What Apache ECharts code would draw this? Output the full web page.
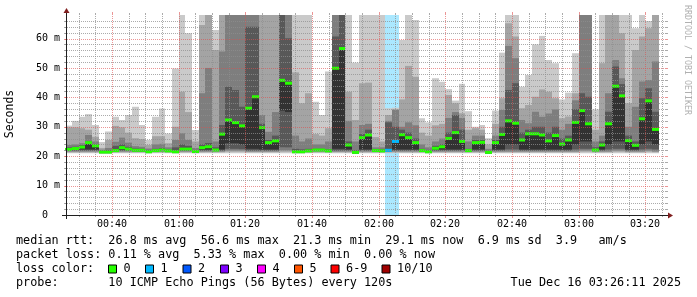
<!DOCTYPE html>
<html><head><meta charset="utf-8">
<script src="https://cdn.jsdelivr.net/npm/echarts@6/dist/echarts.min.js"></script>
<style>html,body{margin:0;padding:0;background:#fff}#c{width:697px;height:297px}</style>
</head><body><div id="c"></div>
<script>
// ---- time frame (minutes after midnight) ----
const firstStepMinute = 26;          // first 120 s step starts 00:26
const stepMinutes = 2;
const axisStartMinute = 26 + 11/60;  // 00:26:11
const axisEndMinute = 206 + 11/60;   // 03:26:11

// ---- median rtt per step (ms) ----
const median = [22.3,22.6,23.1,24.6,23.5,21.4,21.4,21.9,22.9,22.4,
 22.0,22.0,21.5,21.9,22.1,21.8,21.5,22.4,22.4,21.6,
 22.9,23.2,22.1,27.5,32.3,31.4,30.3,36.3,40.2,29.7,
 24.6,25.2,45.8,44.8,21.5,21.5,21.8,22.1,22.1,21.8,
 49.9,56.6,23.8,21.3,26.3,27.2,21.9,21.8,22.0,25.0,
 27.3,26.3,24.6,21.9,21.5,22.7,23.2,26.0,28.0,25.0,
 21.9,24.6,24.7,21.3,24.6,27.4,32.0,31.2,25.5,27.6,
 27.6,27.2,25.2,27.0,24.1,25.5,31.5,35.5,31.0,22.1,
 23.8,31.0,43.8,40.5,25.3,23.7,32.7,38.8,29.1];

// ---- sorted pings (ms); 75 = beyond the top of the graph ----
const ping1 = [21.0,21.0,21.0,21.0,21.0,20.9,20.9,21.0,21.0,21.0,
 21.0,21.0,20.9,21.0,21.0,21.0,20.9,21.0,21.0,20.9,
 21.0,21.0,21.0,21.0,21.0,21.0,21.0,21.0,21.0,21.0,
 21.0,21.0,21.0,21.0,20.9,20.9,21.0,21.0,21.0,21.0,
 21.0,21.0,21.0,20.8,21.0,21.0,21.0,21.0,21.0,21.0,
 21.0,21.0,21.0,21.0,20.9,21.0,21.0,21.0,21.0,21.0,
 21.0,21.0,21.0,20.8,21.0,21.0,21.0,21.0,21.0,21.0,
 21.0,21.0,21.0,21.0,21.0,21.0,21.0,21.0,21.0,21.0,
 21.0,21.0,21.0,21.0,21.0,21.0,21.0,21.0,21.0];
const ping2 = [21.3,21.3,21.3,21.3,21.3,21.0,21.0,21.3,21.3,21.3,
 21.3,21.3,21.1,21.3,21.3,21.3,21.1,21.3,21.3,21.1,
 21.3,21.3,21.3,21.3,21.5,21.5,21.5,21.3,21.3,21.3,
 21.3,21.3,21.5,21.5,21.1,21.1,21.3,21.3,21.3,21.3,
 21.3,21.3,21.3,20.9,21.3,21.3,21.3,21.3,21.3,21.3,
 21.3,21.3,21.3,21.3,21.1,21.3,21.3,21.3,21.3,21.3,
 21.3,21.3,21.3,20.9,21.3,21.3,21.3,21.3,21.3,21.3,
 21.3,21.3,21.3,21.3,21.3,21.3,21.3,21.5,21.5,21.3,
 21.3,21.3,21.5,21.5,21.3,21.3,21.3,21.5,21.3];
const ping3 = [21.6,21.6,21.6,21.6,21.6,21.0,21.0,21.5,21.6,21.6,
 21.6,21.6,21.1,21.5,21.6,21.4,21.1,21.6,21.6,21.2,
 21.6,21.6,21.6,21.6,21.9,21.9,21.9,21.6,21.6,21.6,
 21.6,21.6,22.0,22.0,21.1,21.1,21.4,21.6,21.6,21.4,
 21.6,21.6,21.6,20.9,21.6,21.6,21.5,21.4,21.6,21.6,
 21.6,21.6,21.6,21.5,21.1,21.6,21.6,21.6,21.6,21.6,
 21.5,21.6,21.6,20.9,21.6,21.6,21.6,21.6,21.6,21.6,
 21.6,21.6,21.6,21.6,21.6,21.6,21.6,21.9,21.9,21.6,
 21.6,21.6,21.9,21.9,21.6,21.6,21.6,21.9,21.6];
const ping4 = [21.9,21.9,21.9,21.9,21.9,21.1,21.1,21.6,21.9,21.9,
 21.7,21.7,21.2,21.6,21.8,21.5,21.2,21.9,21.9,21.3,
 21.9,21.9,21.8,21.9,22.5,22.5,22.4,21.9,21.9,21.9,
 21.9,21.9,23.0,23.0,21.2,21.2,21.5,21.8,21.8,21.5,
 21.9,21.9,21.9,21.0,21.9,21.9,21.6,21.5,21.7,21.9,
 21.9,21.9,21.9,21.6,21.2,21.9,21.9,21.9,21.9,21.9,
 21.6,21.9,21.9,21.0,21.9,21.9,22.3,22.3,21.9,21.9,
 21.9,21.9,21.9,21.9,21.9,21.9,22.3,22.5,22.5,21.8,
 21.9,22.3,22.5,22.5,21.9,21.9,22.3,22.5,22.3];
const ping5 = [22.0,22.2,22.3,22.3,22.3,21.1,21.1,21.6,22.3,22.1,
 21.7,21.7,21.2,21.6,21.8,21.5,21.2,22.1,22.1,21.3,
 22.3,22.3,21.8,22.3,24.4,24.4,24.0,22.5,22.5,22.3,
 22.3,22.3,35.5,35.0,21.2,21.2,21.5,21.8,21.8,21.5,
 22.5,22.5,22.3,21.0,22.3,22.3,21.6,21.5,21.7,22.3,
 22.3,22.3,22.3,21.6,21.2,22.3,22.3,22.3,22.3,22.3,
 21.6,22.3,22.3,21.0,22.3,22.3,24.0,24.0,22.3,22.3,
 22.3,22.3,22.3,22.3,22.3,22.3,24.0,25.0,25.0,21.8,
 22.3,24.0,25.0,25.0,22.3,22.3,24.0,25.0,24.0];
// ping6 is the median
const ping7 = [23.0,23.2,23.8,25.0,24.0,21.8,22.0,23.5,24.0,23.2,
 22.6,22.5,22.0,22.5,22.8,22.2,23.0,24.0,23.5,22.0,
 24.0,24.5,23.0,30.6,43.6,42.5,36.8,64.0,64.0,31.0,
 25.5,27.0,75,60.1,22.5,22.3,22.5,22.5,22.5,22.3,
 60.7,75,25.0,22.0,27.5,29.0,22.3,22.2,31.5,30.0,
 29.0,28.0,26.0,22.5,22.0,23.5,24.0,28.0,34.0,29.0,
 22.5,25.5,25.5,21.8,25.5,30.0,42.5,44.8,28.0,29.0,
 30.0,30.0,28.0,30.0,26.0,27.0,36.0,41.4,40.2,23.0,
 25.0,35.1,50.5,44.5,27.0,25.0,39.7,43.1,35.1];
const ping8 = [23.8,24.0,24.4,27.2,25.0,22.2,22.8,24.9,26.3,24.6,
 23.4,23.2,22.6,24.0,24.2,23.0,25.5,27.8,25.5,22.8,
 41.4,50.0,25.0,55.6,75,75,75,75,75,34.0,
 28.3,35.0,75,75,27.0,25.0,26.0,24.0,24.0,25.0,
 75,75,32.0,25.0,30.6,31.0,23.0,23.0,32.0,35.7,
 30.0,31.5,30.5,24.0,23.0,25.0,26.0,33.0,35.0,33.0,
 25.0,27.0,27.0,22.5,27.0,35.7,57.5,53.3,32.3,31.2,
 35.1,33.4,34.5,35.9,29.0,31.0,39.0,75,75,25.0,
 27.0,41.4,52.7,46.5,30.0,36.8,45.4,45.9,52.2];
const ping9 = [29.8,29.8,29.5,29.0,26.6,22.8,25.5,30.3,29.8,28.0,
 26.1,25.8,23.8,26.8,26.8,24.4,30.0,41.9,35.0,25.0,
 64.6,75,56.1,75,75,75,75,75,75,75,
 75,75,75,75,48.5,38.0,41.4,27.5,27.0,29.5,
 75,75,41.9,32.3,44.8,45.0,26.5,25.0,34.0,36.0,
 39.3,50.7,47.0,28.0,27.0,30.5,31.0,40.8,38.0,34.6,
 29.0,29.5,29.0,24.0,31.0,39.7,65.2,60.7,36.3,37.4,
 40.2,42.7,41.9,39.7,32.9,33.5,41.4,75,75,29.0,
 51.6,75,75,61.8,38.0,56.1,60.7,63.5,75];
const ping10 = [30.4,32.0,33.4,34.3,30.6,24.8,28.4,33.4,32.3,34.0,
 36.8,30.6,25.5,33.4,36.2,27.7,49.8,75,61.8,28.9,
 75,75,62.9,75,75,75,75,75,75,75,
 75,75,75,75,75,75,75,38.5,34.0,48.8,
 75,75,75,51.8,75,75,75,75,36.3,36.5,
 59.5,75,66.3,32.9,31.5,46.5,45.3,42.8,38.9,44.6,
 35.3,30.0,30.6,26.1,35.5,55.2,75,75,43.6,47.6,
 58.0,60.9,52.7,51.6,39.3,41.6,55.0,75,75,35.9,
 75,75,75,75,75,63.5,75,66.0,75];

// ---- lost pings per step (out of 10) ----
const lossCount = [0,0,0,0,0,0,0,0,0,0, 0,0,0,0,0,0,0,0,0,0,
 0,0,0,0,0,0,0,0,0,0, 0,0,0,0,0,0,0,0,0,0,
 0,0,0,0,0,0,0,0,1,1, 0,0,0,0,0,0,0,0,0,0,
 0,0,0,0,0,0,0,0,0,0, 0,0,0,0,0,0,0,0,0,0,
 0,0,0,0,0,0,0,0,0];

// ---- legends / labels ----
const lossLegendLabels = ['0','1','2','3','4','5','6-9','10/10'];
const lossLegendColors = ['#26ff00','#00b8ff','#0059ff','#7e00ff','#ff00ff','#ff5500','#ff0000','#a00000'];
const xTickLabels = ['00:40','01:00','01:20','01:40','02:00','02:20','02:40','03:00','03:20'];
const statLines = [
  'median rtt:  26.8 ms avg  56.6 ms max  21.3 ms min  29.1 ms now  6.9 ms sd  3.9   am/s',
  'packet loss: 0.11 % avg  5.33 % max  0.00 % min  0.00 % now',
  'loss color:',
  'probe:       10 ICMP Echo Pings (56 Bytes) every 120s'
];
const dateText = 'Tue Dec 16 03:26:11 2025';

// ================= drawing =================
const MONO = 'DejaVu Sans Mono';
const G = {left: 66, top: 15, width: 600, height: 200};
const smokeColors = ['#cacaca','#a4a4a4','#7e7e7e','#585858','#323232'];
const lows = [ping1, ping2, ping3, ping4, ping5];
const highs = [ping10, ping9, ping8, ping7, median];

function lossIndex(n) { return n <= 5 ? n : (n < 10 ? 6 : 7); }
function toMin(lbl) { const p = lbl.split(':'); return +p[0] * 60 + +p[1]; }

function clipR(params, r) {
  const cs = params.coordSys;
  return echarts.graphic.clipRectByRect(r, {x: cs.x, y: cs.y, width: cs.width, height: cs.height});
}
function bandRender(params, api) {
  const a = api.coord([api.value(0), api.value(3)]);
  const b = api.coord([api.value(1), api.value(2)]);
  const x0 = Math.round(a[0]), x1 = Math.round(b[0]);
  const r = clipR(params, {x: x0, y: a[1], width: x1 - x0, height: b[1] - a[1]});
  return r && {type: 'rect', shape: r, style: {fill: api.visual('color')}};
}
function medianRender(params, api) {
  const a = api.coord([api.value(0), api.value(2)]);
  const b = api.coord([api.value(1), api.value(2)]);
  const x0 = Math.round(a[0]), x1 = Math.round(b[0]);
  const col = lossLegendColors[lossIndex(api.value(3))];
  return {type: 'rect', shape: {x: x0, y: a[1] - 1.5, width: x1 - x0, height: 3}, style: {fill: col}};
}
function lossRender(params, api) {
  if (!api.value(2)) return null;
  const a = api.coord([api.value(0), 0]);
  const b = api.coord([api.value(1), 0]);
  const x0 = Math.round(a[0]), x1 = Math.round(b[0]);
  const cs = params.coordSys;
  const c = echarts.color.modifyAlpha(lossLegendColors[lossIndex(api.value(2))], 0.33);
  return {type: 'rect', shape: {x: x0, y: cs.y, width: x1 - x0, height: cs.height}, style: {fill: c}};
}
const GRID_C = 'rgba(143,143,143,0.75)', MGRID_C = 'rgba(222,79,79,0.6)';
function gridRender(params, api) {
  const cs = params.coordSys;
  const kind = api.value(2);
  const p = api.coord([api.value(0), api.value(1)]);
  const major = kind === 1 || kind === 3;
  const col = major ? MGRID_C : GRID_C;
  const t = major ? 3 : 2;
  if (kind < 2) {
    const x = Math.round(p[0]) + 0.5, top = cs.y, bot = cs.y + cs.height;
    return {type: 'group', children: [
      {type: 'line', shape: {x1: x, y1: top + 1, x2: x, y2: bot - 1}, style: {stroke: col, lineWidth: 1, lineDash: [1, 1]}},
      {type: 'line', shape: {x1: x, y1: top - t, x2: x, y2: top}, style: {stroke: col, lineWidth: 1}},
      {type: 'line', shape: {x1: x, y1: bot, x2: x, y2: bot + t}, style: {stroke: col, lineWidth: 1}}
    ]};
  }
  const y = Math.round(p[1]) + 0.5, l = cs.x, r = cs.x + cs.width;
  return {type: 'group', children: [
    {type: 'line', shape: {x1: l - 1, y1: y, x2: r + 1, y2: y}, style: {stroke: col, lineWidth: 1, lineDash: [1, 1]}},
    {type: 'line', shape: {x1: l - 2, y1: y, x2: l, y2: y}, style: {stroke: col, lineWidth: 1}},
    {type: 'line', shape: {x1: r, y1: y, x2: r + 2, y2: y}, style: {stroke: col, lineWidth: 1}}
  ]};
}
function xLabelRender(params, api) {
  const p = api.coord([api.value(0), 0]);
  return {type: 'text', x: Math.round(p[0]), y: p[1] + 9,
    style: {text: xTickLabels[params.dataIndex], fill: '#000', font: '10px ' + MONO,
      textAlign: 'center', textVerticalAlign: 'middle'}};
}

const colT = median.map((_, k) => firstStepMinute + k * stepMinutes);
const series = [];
series.push({type: 'custom', name: 'loss', z: 1, silent: true,
  data: median.map((_, k) => [colT[k], colT[k] + stepMinutes, lossCount[k]]),
  renderItem: lossRender});
for (let i = 0; i < 5; i++) {
  series.push({type: 'custom', name: 'smoke' + (i + 1), z: 2, silent: true,
    itemStyle: {color: smokeColors[i]},
    data: median.map((_, k) => [colT[k], colT[k] + stepMinutes, lows[i][k], highs[i][k]]),
    renderItem: bandRender});
}
series.push({type: 'custom', name: 'median', z: 3, silent: true,
  data: median.map((m, k) => [colT[k], colT[k] + stepMinutes, m, lossCount[k]]),
  renderItem: medianRender});
const gridItems = [];
for (let t = 30; t <= 205; t += 5) gridItems.push([t, 0, t % 20 === 0 ? 1 : 0]);
for (let v = 2; v <= 66; v += 2) gridItems.push([axisStartMinute, v, v % 10 === 0 ? 3 : 2]);
series.push({type: 'custom', name: 'grid', z: 4, silent: true, data: gridItems, renderItem: gridRender});
series.push({type: 'custom', name: 'xlabels', z: 5, silent: true,
  data: xTickLabels.map(l => [toMin(l), 0]), renderItem: xLabelRender});

// decorations
const X0 = G.left, Y0 = G.top + G.height, X1 = G.left + G.width, YT = G.top;
const AX = 'rgb(31,31,31)', ARW = 'rgb(128,31,31)';
const graphics = [
  {type: 'line', z: 10, shape: {x1: X0 - 4, y1: Y0 + 0.5, x2: X1 + 4, y2: Y0 + 0.5}, style: {stroke: AX, lineWidth: 1}},
  {type: 'polygon', z: 10, shape: {points: [[X1 + 2, Y0 - 2.5], [X1 + 2, Y0 + 3.5], [X1 + 7, Y0 + 0.5]]}, style: {fill: ARW}},
  {type: 'line', z: 10, shape: {x1: X0 + 0.5, y1: Y0 + 4, x2: X0 + 0.5, y2: YT - 4}, style: {stroke: AX, lineWidth: 1}},
  {type: 'polygon', z: 10, shape: {points: [[X0 - 2.5, YT - 2], [X0 + 3.5, YT - 2], [X0 + 0.5, YT - 7]]}, style: {fill: ARW}},
  {type: 'text', x: 10.5, y: 114, rotation: Math.PI / 2,
    style: {text: 'Seconds', font: '11.5px ' + MONO, fill: '#000', textAlign: 'center', textVerticalAlign: 'middle'}},
  {type: 'text', x: 687.5, y: 60, rotation: -Math.PI / 2,
    style: {text: 'RRDTOOL / TOBI OETIKER', font: '8.3px ' + MONO, fill: '#b0b0b0', textAlign: 'center', textVerticalAlign: 'middle'}}
];
const lineY = [241, 255, 269, 283];
statLines.forEach((s, i) => graphics.push({type: 'text', x: 16, y: lineY[i],
  style: {text: s, font: '11.8px ' + MONO, fill: '#000', textAlign: 'left', textVerticalAlign: 'middle'}}));
graphics.push({type: 'text', x: 681, y: lineY[3],
  style: {text: dateText, font: '11.8px ' + MONO, fill: '#000', textAlign: 'right', textVerticalAlign: 'middle'}});
const boxX = [108, 145, 182.5, 220, 257, 294, 330.5, 381.5];
lossLegendLabels.forEach((lbl, i) => {
  graphics.push({type: 'rect', shape: {x: boxX[i] + 0.5, y: 265, width: 8, height: 8},
    style: {fill: lossLegendColors[i], stroke: '#000', lineWidth: 1}});
  graphics.push({type: 'text', x: boxX[i] + 15.6, y: lineY[2],
    style: {text: lbl, font: '11.8px ' + MONO, fill: '#000', textAlign: 'left', textVerticalAlign: 'middle'}});
});

const chart = echarts.init(document.getElementById('c'), null, {renderer: 'canvas', width: 697, height: 297});
chart.setOption({
  animation: false,
  backgroundColor: '#ffffff',
  grid: G,
  xAxis: {type: 'value', min: axisStartMinute, max: axisEndMinute, show: false},
  yAxis: {type: 'value', min: 0, max: 68, interval: 10,
    axisLine: {show: false}, axisTick: {show: false}, splitLine: {show: false},
    axisLabel: {showMaxLabel: false, margin: 6, color: '#000', fontFamily: MONO, fontSize: 10,
      formatter: v => v === 0 ? '{z|0}' : v + ' m',
      rich: {z: {fontFamily: MONO, fontSize: 10, color: '#000', padding: [0, 12, 0, 0]}}}},
  series: series,
  graphic: graphics
});
</script></body></html>
